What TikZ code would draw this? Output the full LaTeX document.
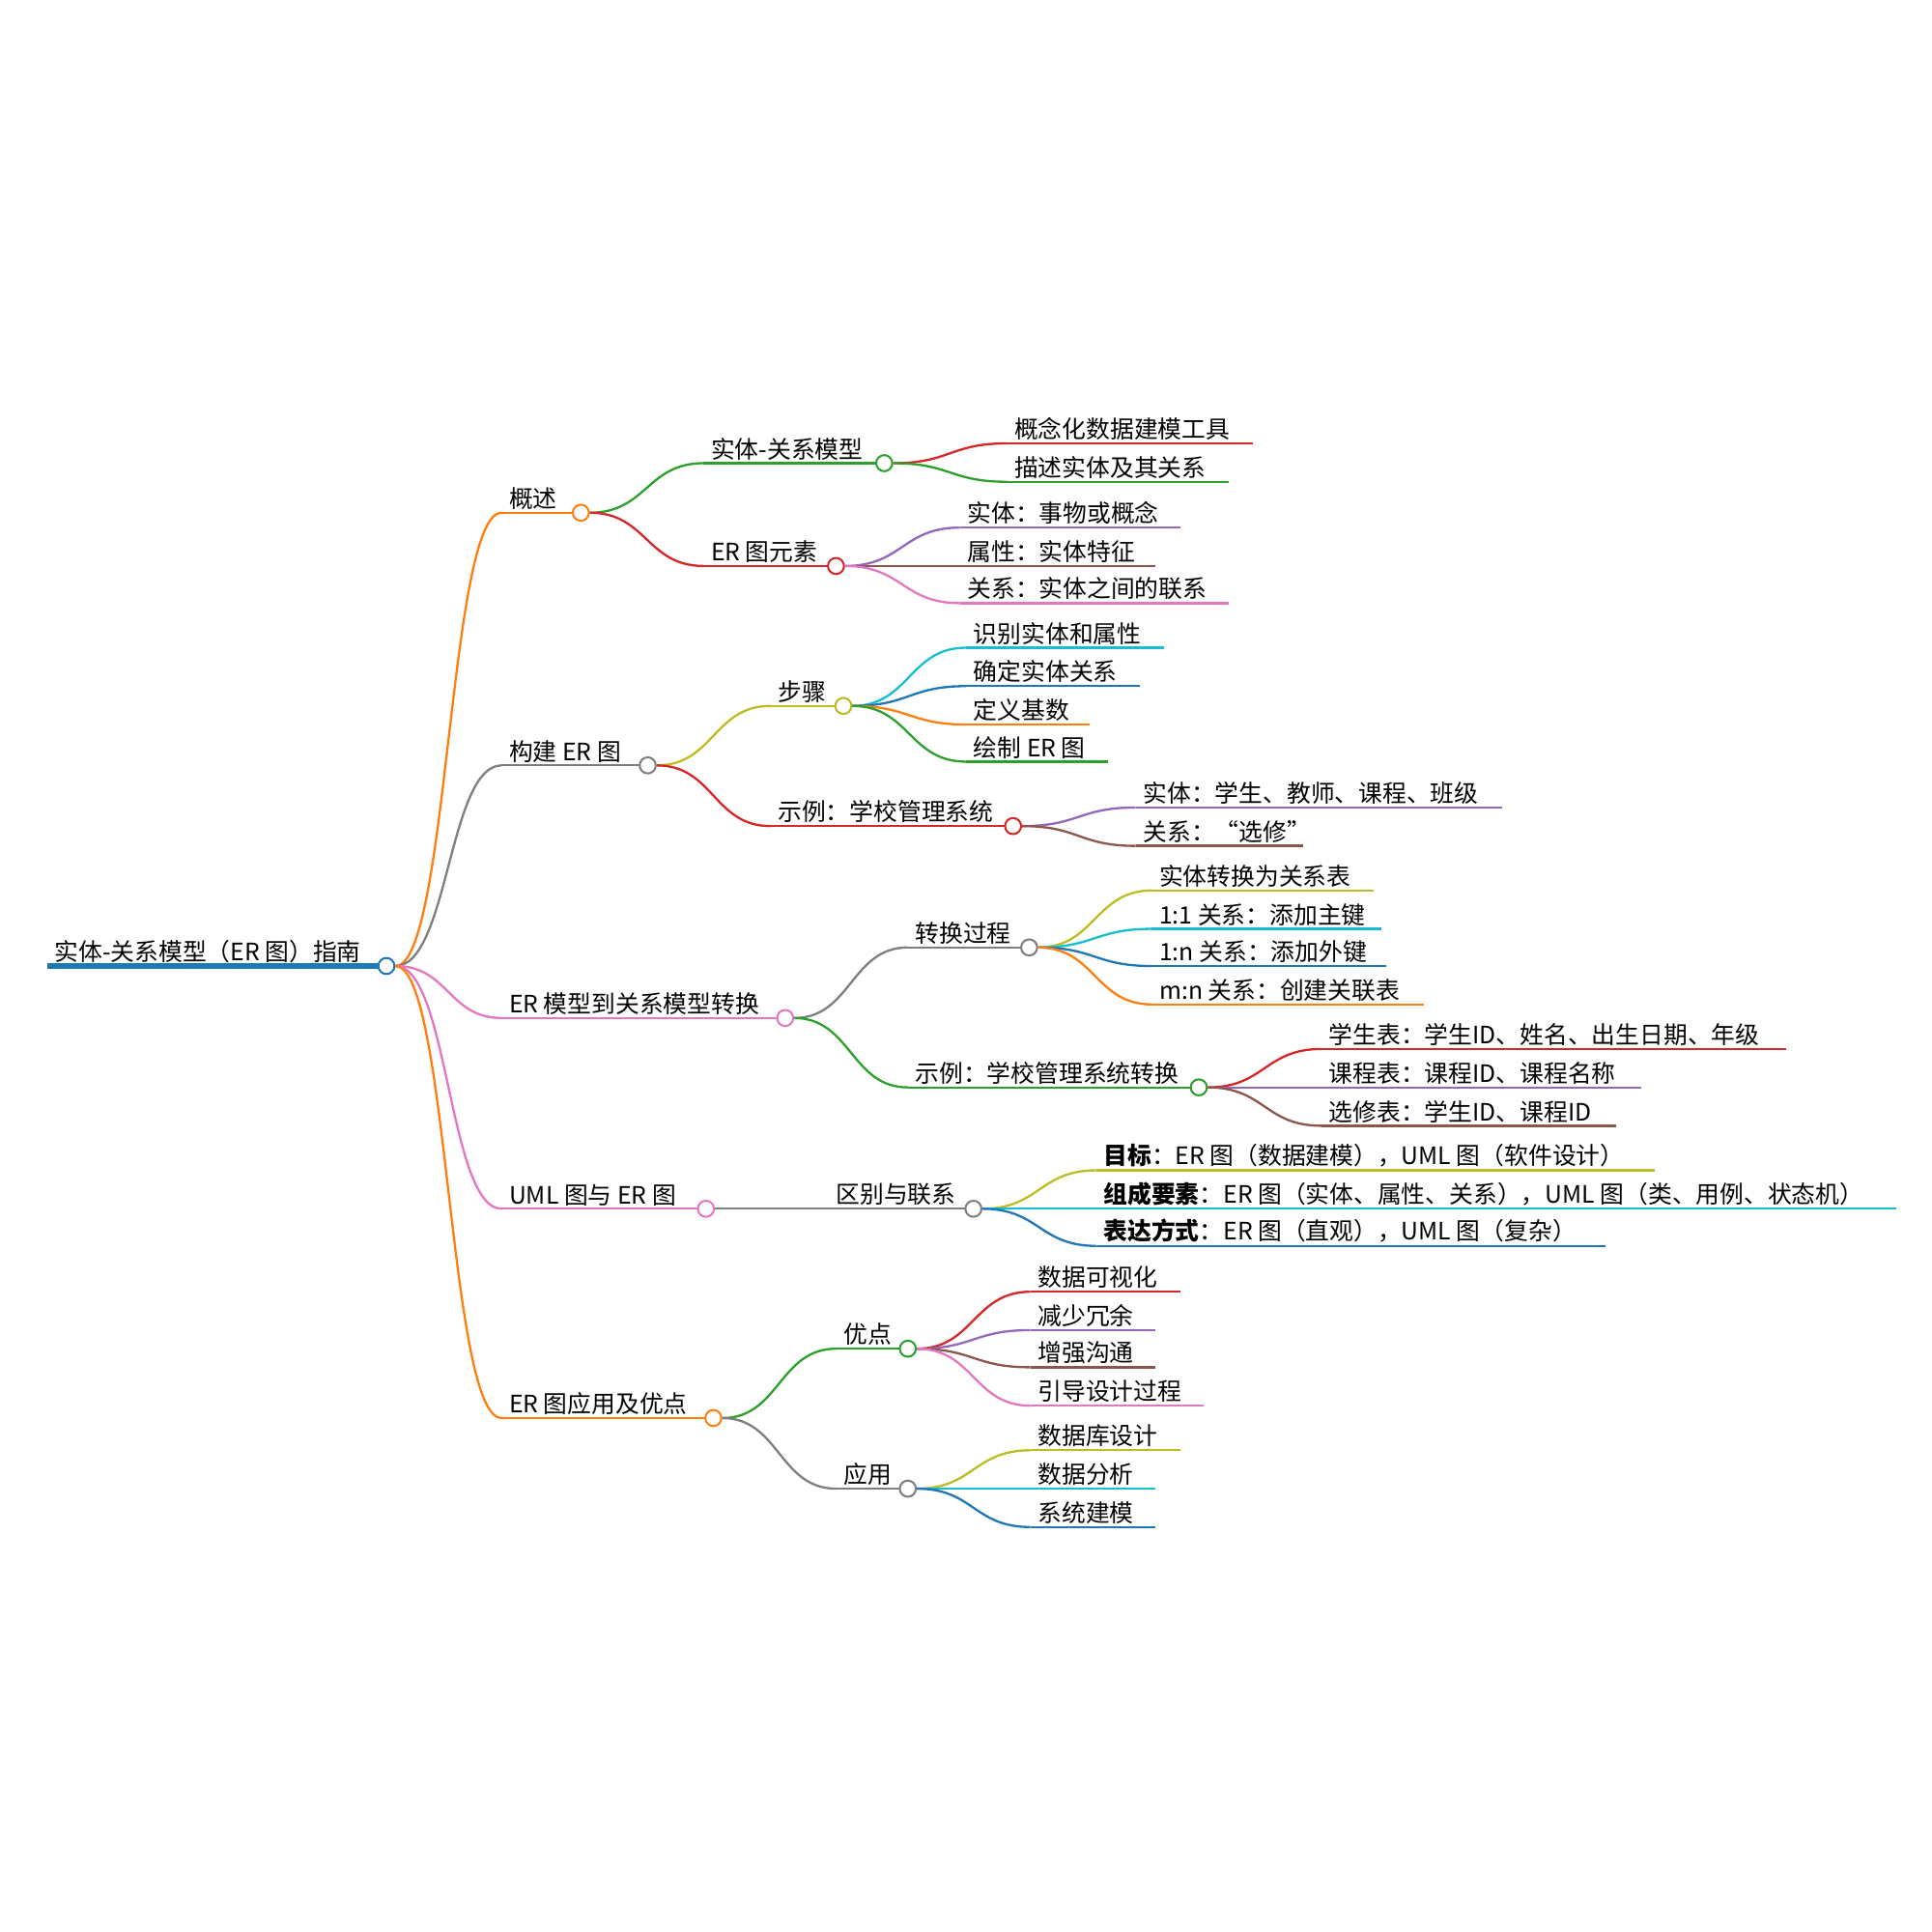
\documentclass[tikz,border=0pt]{standalone}
\usepackage{fontspec}
\setmainfont{Noto Sans CJK SC}
\usetikzlibrary{calc}
\definecolor{cOrange}{HTML}{FF7F0E}
\definecolor{cGreen}{HTML}{2CA02C}
\definecolor{cRed}{HTML}{D62728}
\definecolor{cPurple}{HTML}{9467BD}
\definecolor{cBrown}{HTML}{8C564B}
\definecolor{cPink}{HTML}{E377C2}
\definecolor{cGray}{HTML}{7F7F7F}
\definecolor{cOlive}{HTML}{BCBD22}
\definecolor{cCyan}{HTML}{17BECF}
\definecolor{cBlue}{HTML}{1F77B4}
\tikzset{
  edge/.style={line width=0.9mm},
  dot/.style={circle,fill=white,line width=0.8mm,minimum size=6.5mm,inner sep=0pt},
  lbl/.style={anchor=south west,inner xsep=3mm,inner ysep=1.2mm,font=\fontsize{27.5pt}{30pt}\selectfont}
}
% #1 name, #2 parent, #3 start x, #4 end x, #5 y, #6 colour, #7 text
\newcommand\mmlink[3]{%
  \draw[edge,#3] let \p1=(#1.east), \p2=(#2-s) in
    (\p1) .. controls (\x1/2+\x2/2,\y1) and (\x1/2+\x2/2,\y2) .. (\p2);}
\newcommand\mmbranch[7]{%
  \coordinate (#1-s) at (#3,#5);
  \mmlink{#2}{#1}{#6}
  \draw[edge,#6] (#1-s) -- (#4,#5);
  \node[lbl] (#1-t) at (#1-s) {#7};
  \node[dot,draw=#6] (#1) at (#4,#5) {};}
\newcommand\mmleaf[7]{%
  \coordinate (#1-s) at (#3,#5);
  \mmlink{#2}{#1}{#6}
  \draw[edge,#6] (#1-s) -- (#4,#5);
  \node[lbl] (#1-t) at (#1-s) {#7};}
\begin{document}
\begin{tikzpicture}[x=0.5mm,y=-0.5mm]
\useasboundingbox (0,0) rectangle (1560,1560);

% root
\draw[line width=2mm,cBlue] (38,780) -- (312,780);
\node[lbl] (root-t) at (38,780) {实体-关系模型（ER 图）指南};
\node[dot,draw=cBlue] (root) at (312,780) {};

% overview
\mmbranch{ov}{root}{405}{469}{414}{cOrange}{概述}
\mmbranch{erm}{ov}{568}{714}{374}{cGreen}{实体-关系模型}
\mmleaf{erm1}{erm}{813}{1012}{358}{cRed}{概念化数据建模工具}
\mmleaf{erm2}{erm}{813}{992}{389}{cGreen}{描述实体及其关系}
\mmbranch{ele}{ov}{568}{675}{457}{cRed}{ER 图元素}
\mmleaf{ele1}{ele}{775}{953}{426}{cPurple}{实体：事物或概念}
\mmleaf{ele2}{ele}{775}{933}{457}{cBrown}{属性：实体特征}
\mmleaf{ele3}{ele}{775}{992}{487}{cPink}{关系：实体之间的联系}

% building
\mmbranch{bld}{root}{405}{523}{618}{cGray}{构建 ER 图}
\mmbranch{stp}{bld}{622}{681}{570}{cOlive}{步骤}
\mmleaf{stp1}{stp}{780}{940}{523}{cCyan}{识别实体和属性}
\mmleaf{stp2}{stp}{780}{920}{554}{cBlue}{确定实体关系}
\mmleaf{stp3}{stp}{780}{880}{585}{cOrange}{定义基数}
\mmleaf{stp4}{stp}{780}{895}{615}{cGreen}{绘制 ER 图}
\mmbranch{exa}{bld}{622}{818}{667}{cRed}{示例：学校管理系统}
\mmleaf{exa1}{exa}{917}{1213}{652}{cPurple}{实体：学生、教师、课程、班级}
\mmleaf{exa2}{exa}{917}{1052}{683}{cBrown}{关系：“选修”}

% conversion
\mmbranch{cnv}{root}{405}{634}{822}{cPink}{ER 模型到关系模型转换}
\mmbranch{prc}{cnv}{733}{831}{765}{cGray}{转换过程}
\mmleaf{prc1}{prc}{930}{1109}{719}{cOlive}{实体转换为关系表}
\mmleaf{prc2}{prc}{930}{1115}{750}{cCyan}{1:1 关系：添加主键}
\mmleaf{prc3}{prc}{930}{1119}{780}{cBlue}{1:n 关系：添加外键}
\mmleaf{prc4}{prc}{930}{1150}{811}{cOrange}{m:n 关系：创建关联表}
\mmbranch{exb}{cnv}{733}{968}{878}{cGreen}{示例：学校管理系统转换}
\mmleaf{exb1}{exb}{1067}{1442}{847}{cRed}{学生表：学生ID、姓名、出生日期、年级}
\mmleaf{exb2}{exb}{1067}{1325}{878}{cPurple}{课程表：课程ID、课程名称}
\mmleaf{exb3}{exb}{1067}{1305}{909}{cBrown}{选修表：学生ID、课程ID}

% uml
\mmbranch{uml}{root}{405}{570}{976}{cPink}{UML 图与 ER 图}
\mmbranch{dif}{uml}{669}{786}{976}{cGray}{区别与联系}
\mmleaf{dif1}{dif}{885}{1336}{945}{cOlive}{\textbf{目标}：ER 图（数据建模），UML 图（软件设计）}
\mmleaf{dif2}{dif}{885}{1531}{976}{cCyan}{\textbf{组成要素}：ER 图（实体、属性、关系），UML 图（类、用例、状态机）}
\mmleaf{dif3}{dif}{885}{1296}{1006}{cBlue}{\textbf{表达方式}：ER 图（直观），UML 图（复杂）}

% application
\mmbranch{app}{root}{405}{576}{1145}{cOrange}{ER 图应用及优点}
\mmbranch{adv}{app}{675}{733}{1089}{cGreen}{优点}
\mmleaf{adv1}{adv}{832}{953}{1043}{cRed}{数据可视化}
\mmleaf{adv2}{adv}{832}{933}{1074}{cPurple}{减少冗余}
\mmleaf{adv3}{adv}{832}{933}{1104}{cBrown}{增强沟通}
\mmleaf{adv4}{adv}{832}{972}{1135}{cPink}{引导设计过程}
\mmbranch{use}{app}{675}{733}{1202}{cGray}{应用}
\mmleaf{use1}{use}{832}{953}{1171}{cOlive}{数据库设计}
\mmleaf{use2}{use}{832}{933}{1202}{cCyan}{数据分析}
\mmleaf{use3}{use}{832}{933}{1233}{cBlue}{系统建模}
\end{tikzpicture}
\end{document}
